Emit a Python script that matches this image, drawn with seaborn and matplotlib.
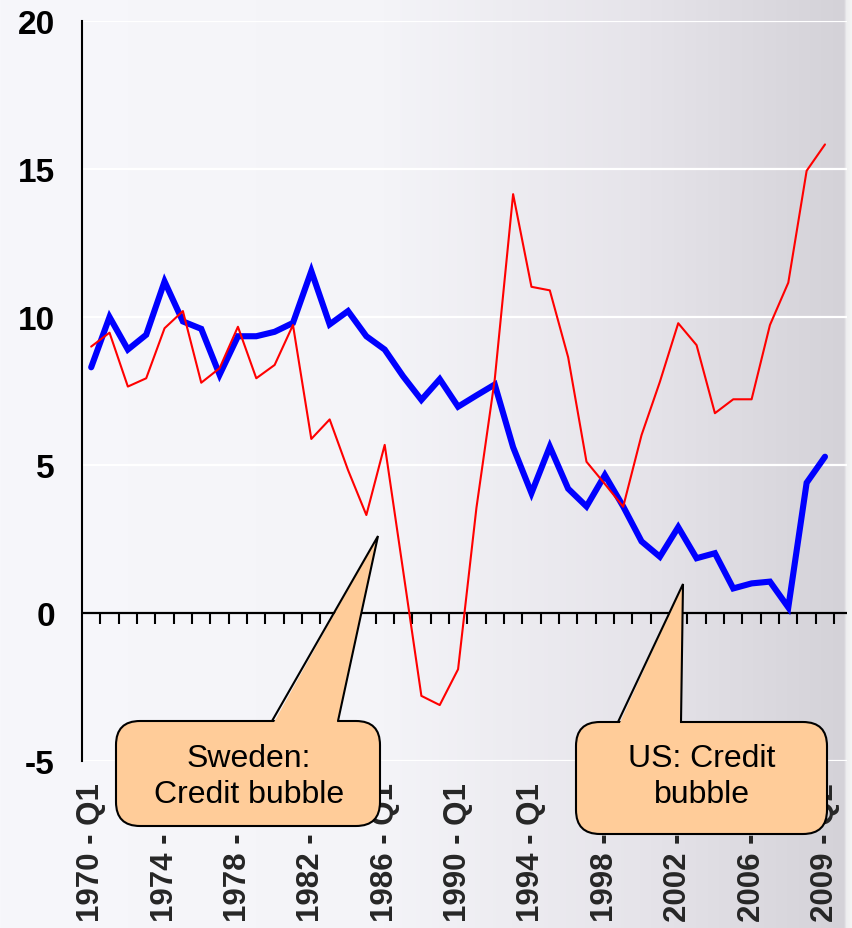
import numpy as np
import pandas as pd
import matplotlib
matplotlib.use("Agg")
import matplotlib.pyplot as plt
import seaborn as sns
from matplotlib.patches import FancyBboxPatch, Polygon
from matplotlib.lines import Line2D
from matplotlib.transforms import Affine2D

# Household saving ratio (% of disposable income), sampled each Q1, plus 2009 Q2
periods = [f"{y} - Q1" for y in range(1970, 2010)] + ["2009 - Q2"]

us_saving = [
    8.3, 10.0, 8.9, 9.4, 11.2, 9.85, 9.6, 8.05, 9.35, 9.35,
    9.5, 9.8, 11.55, 9.75, 10.2, 9.35, 8.9, 8.0, 7.2, 7.9,
    6.97, 7.35, 7.72, 5.6, 4.05, 5.62, 4.2, 3.6, 4.66, 3.6,
    2.42, 1.9, 2.9, 1.85, 2.02, 0.83, 1.0, 1.06, 0.19, 4.4,
    5.28,
]
sweden_saving = [
    9.0, 9.47, 7.65, 7.93, 9.62, 10.2, 7.78, 8.27, 9.67, 7.93,
    8.38, 9.73, 5.88, 6.54, 4.83, 3.31, 5.68, 1.45, -2.8, -3.11,
    -1.9, 3.55, 7.9, 14.15, 11.02, 10.9, 8.64, 5.11, 4.36, 3.59,
    6.01, 7.81, 9.79, 9.05, 6.75, 7.22, 7.22, 9.73, 11.16, 14.94,
    15.83,
]
y_ticks = [-5, 0, 5, 10, 15, 20]

callouts = [
    ("Sweden:\nCredit bubble", "sweden"),
    ("US: Credit\nbubble", "us"),
]

df = pd.DataFrame({
    "period": periods,
    "t": np.arange(len(periods)),
    "US": us_saving,
    "Sweden": sweden_saving,
})

sns.set_style("white")
plt.rcParams["font.family"] = ["Liberation Sans", "DejaVu Sans"]

W, H = 853, 929
fig = plt.figure(figsize=(W / 100, H / 100), dpi=100)

# slide-style background: near white on the left fading to grey on the right
bg = fig.add_axes([0, 0, 1, 1], zorder=-10)
bg.set_axis_off()
stops = [0.0, 0.45, 0.75, 0.99, 0.993, 1.0]
cols = np.array([
    [247, 247, 251], [244, 244, 248], [230, 228, 234],
    [212, 210, 216], [238, 238, 240], [246, 246, 246],
]) / 255.0
xs = np.linspace(0, 1, W)
grad = np.stack([np.interp(xs, stops, cols[:, k]) for k in range(3)], axis=-1)
bg.imshow(grad[np.newaxis, :, :], aspect="auto", extent=[0, 1, 0, 1])
bg.set_xlim(0, 1)
bg.set_ylim(0, 1)

ax = fig.add_axes([82 / W, 1 - 762 / H, (847 - 82) / W, (762 - 22) / H])
ax.set_facecolor("none")

ymin, ymax = -5, 20
# white gridlines away from the zero axis
for v in y_ticks:
    if v != 0:
        ax.axhline(v, color="white", linewidth=1.6, zorder=0.5)

# category axis crossing at zero
ax.axhline(0, color="black", linewidth=1.6, zorder=1.5)

sns.lineplot(data=df, x="t", y="US", color="#0000FF", linewidth=4.4, ax=ax,
             solid_joinstyle="miter", zorder=2)
sns.lineplot(data=df, x="t", y="Sweden", color="#FF0000", linewidth=1.5,
             ax=ax, zorder=3)

ax.set_ylim(ymin, ymax)
ax.set_xlim(-0.5, len(periods) + 0.2)
ax.set_xlabel("")
ax.set_ylabel("")

ax.set_yticks(y_ticks)
ax.set_yticklabels([str(v) for v in y_ticks], fontsize=24, fontweight="bold")
ax.tick_params(axis="y", direction="out", length=7.5, width=1.5, pad=12,
               colors="black")

lab_idx = list(range(0, len(periods), 4))
ax.set_xticks(df["t"].iloc[lab_idx])
ax.set_xticklabels([periods[i] for i in lab_idx], rotation=90,
                   fontsize=22.5, fontweight="bold")
ax.tick_params(axis="x", length=0, pad=15)

for side in ["top", "right", "bottom"]:
    ax.spines[side].set_visible(False)
ax.spines["left"].set_linewidth(1.5)
ax.spines["left"].set_color("black")

# tick marks between the periods, hanging below the zero line
zero_loc = (0 - ymin) / (ymax - ymin)
sec = ax.secondary_xaxis(zero_loc)
sec.set_xticks(np.arange(0.5, len(periods), 1.0))
sec.set_xticklabels([])
sec.tick_params(axis="x", direction="out", length=8, width=1.5, colors="black")
for side in ["top", "left", "right", "bottom"]:
    sec.spines[side].set_visible(False)

# speech-bubble callouts, laid out in pixel units from the top-left corner
px = Affine2D().scale(1 / W, -1 / H).translate(0, 1) + fig.transFigure
bubble_geom = {
    "sweden": dict(box=(116, 722, 264, 105), base=(272, 338), tip=(378, 537),
                   text=(249, 777)),
    "us": dict(box=(576, 723, 251, 112), base=(618, 681), tip=(683, 585),
               text=(702, 777)),
}
fill = "#FFCC99"
for label, key in callouts:
    g = bubble_geom[key]
    x0, y0, w, h = g["box"]
    box = FancyBboxPatch((x0, y0), w, h,
                         boxstyle="round,pad=0,rounding_size=24",
                         transform=px, facecolor=fill, edgecolor="black",
                         linewidth=1.5, zorder=5)
    fig.add_artist(box)
    b1, b2 = g["base"]
    tx, ty = g["tip"]
    wedge = Polygon([(b1 + 1, y0 + 3), (tx, ty), (b2 - 1, y0 + 3)],
                    closed=True, transform=px, facecolor=fill,
                    edgecolor="none", zorder=6)
    fig.add_artist(wedge)
    fig.add_artist(Line2D([b1, tx, b2], [y0, ty, y0], transform=px,
                          color="black", linewidth=1.5, zorder=7,
                          solid_joinstyle="miter"))
    cx, cy = g["text"]
    fig.text(cx, cy, label, transform=px, ha="center", va="center",
             multialignment="center", fontsize=23, linespacing=1.22,
             color="black", zorder=8)

fig.savefig("out.png", dpi=100)
